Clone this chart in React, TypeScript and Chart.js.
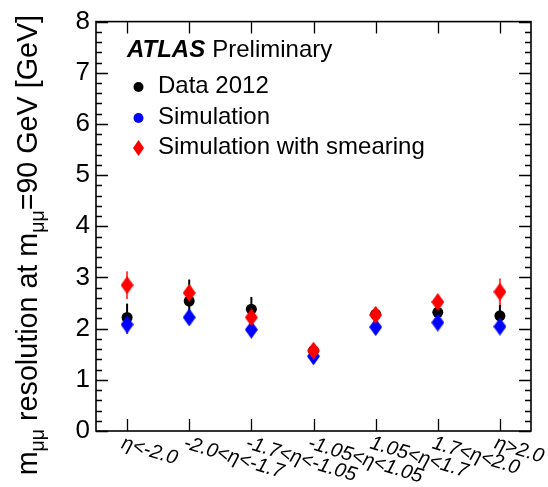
import React, { useEffect, useRef } from 'react';
import { Chart, registerables } from 'chart.js';

Chart.register(...registerables);

const FONT = '"Liberation Sans", Arial, Helvetica, sans-serif';

const categories = ['η<-2.0', '-2.0<η<-1.7', '-1.7<η<-1.05', '-1.05<η<1.05', '1.05<η<1.7', '1.7<η<2.0', 'η>2.0'];

const dataValues = [2.22, 2.54, 2.38, 1.57, 2.28, 2.32, 2.25];
const dataErrors = [0.27, 0.42, 0.24, 0.08, 0.08, 0.09, 0.28];

const simValues = [2.08, 2.22, 1.98, 1.46, 2.03, 2.12, 2.04];
const simErrors = [0.18, 0.1, 0.1, 0.06, 0.1, 0.1, 0.12];

const smearValues = [2.85, 2.7, 2.22, 1.57, 2.27, 2.52, 2.72];
const smearErrors = [0.27, 0.15, 0.1, 0.08, 0.15, 0.12, 0.26];

const seriesLabels = ['Data 2012', 'Simulation', 'Simulation with smearing'];
const seriesColors = ['#000000', '#0000ff', '#ff0000'];

const yMin = 0;
const yMax = 8;
const yMajorStep = 1;
const yMinorPerMajor = 5;

function makeDiamond(color: string, w: number, h: number) {
  const c = document.createElement('canvas');
  c.width = w;
  c.height = h;
  const ctx = c.getContext('2d')!;
  ctx.fillStyle = color;
  ctx.beginPath();
  ctx.moveTo(w / 2, 0);
  ctx.lineTo(w, h / 2);
  ctx.lineTo(w / 2, h);
  ctx.lineTo(0, h / 2);
  ctx.closePath();
  ctx.fill();
  return c;
}

const errorBarPlugin = {
  id: 'errorBars',
  beforeDatasetsDraw(chart: any) {
    const ctx = chart.ctx;
    const xs = chart.scales.x;
    const ys = chart.scales.y;
    chart.data.datasets.forEach((ds: any) => {
      const errs: number[] = ds.errors || [];
      ctx.save();
      ctx.strokeStyle = ds.errorColor;
      ctx.lineWidth = 2;
      ds.data.forEach((v: number, i: number) => {
        const e = errs[i] || 0;
        const x = xs.getPixelForValue(i);
        ctx.beginPath();
        ctx.moveTo(x, ys.getPixelForValue(v - e));
        ctx.lineTo(x, ys.getPixelForValue(v + e));
        ctx.stroke();
      });
      ctx.restore();
    });
  },
};

const decorPlugin = {
  id: 'decor',
  afterDraw(chart: any) {
    const ctx = chart.ctx;
    const a = chart.chartArea;
    const xs = chart.scales.x;
    const ys = chart.scales.y;
    ctx.save();
    // frame
    ctx.strokeStyle = '#000';
    ctx.lineWidth = 1.6;
    ctx.strokeRect(a.left, a.top, a.right - a.left, a.bottom - a.top);
    // y ticks (major + minor), both sides, inward
    ctx.lineWidth = 1.3;
    const minorStep = yMajorStep / yMinorPerMajor;
    const n = Math.round((yMax - yMin) / minorStep);
    for (let k = 0; k <= n; k++) {
      const v = yMin + k * minorStep;
      const y = Math.round(ys.getPixelForValue(v)) + 0.5;
      const len = k % yMinorPerMajor === 0 ? 12 : 6;
      ctx.beginPath();
      ctx.moveTo(a.left, y);
      ctx.lineTo(a.left + len, y);
      ctx.moveTo(a.right, y);
      ctx.lineTo(a.right - len, y);
      ctx.stroke();
    }
    // x ticks at categories, top and bottom, inward
    categories.forEach((_, i) => {
      const x = Math.round(xs.getPixelForValue(i)) + 0.5;
      ctx.beginPath();
      ctx.moveTo(x, a.bottom);
      ctx.lineTo(x, a.bottom - 12);
      ctx.moveTo(x, a.top);
      ctx.lineTo(x, a.top + 12);
      ctx.stroke();
    });
    // x labels, rotated
    ctx.fillStyle = '#000';
    ctx.font = `italic 20px ${FONT}`;
    ctx.textAlign = 'left';
    ctx.textBaseline = 'top';
    categories.forEach((lab, i) => {
      const x = xs.getPixelForValue(i);
      ctx.save();
      ctx.translate(x - 2, a.bottom + 2);
      ctx.rotate((17 * Math.PI) / 180);
      ctx.fillText(lab, 0, 0);
      ctx.restore();
    });
    // y title with subscripts
    const big = 28.7;
    const small = big * 0.68;
    const parts: [string, boolean][] = [
      ['m', false],
      ['μμ', true],
      [' resolution at m', false],
      ['μμ', true],
      ['=90 GeV [GeV]', false],
    ];
    const widths = parts.map(([t, sub]) => {
      ctx.font = `${sub ? small : big}px ${FONT}`;
      return ctx.measureText(t).width;
    });
    const total = widths.reduce((s, w) => s + w, 0);
    ctx.save();
    ctx.translate(37, 15 + total);
    ctx.rotate(-Math.PI / 2);
    ctx.textBaseline = 'alphabetic';
    let cx = 0;
    parts.forEach(([t, sub], i) => {
      ctx.font = `${sub ? small : big}px ${FONT}`;
      ctx.fillText(t, cx, sub ? 7 : 0);
      cx += widths[i];
    });
    ctx.restore();
    // ATLAS Preliminary
    ctx.textBaseline = 'alphabetic';
    ctx.font = `italic bold 24px ${FONT}`;
    ctx.fillText('ATLAS', 127, 57);
    const aw = ctx.measureText('ATLAS').width;
    ctx.font = `24px ${FONT}`;
    ctx.fillText('Preliminary', 127 + aw + 7, 57);
    // legend entries
    const rowY = [93, 124, 154];
    const mx = 138.5;
    rowY.forEach((by, i) => {
      const my = by - 6;
      ctx.fillStyle = seriesColors[i];
      ctx.beginPath();
      if (i < 2) {
        ctx.arc(mx, my, 5, 0, Math.PI * 2);
      } else {
        ctx.moveTo(mx, my - 8);
        ctx.lineTo(mx + 5.5, my);
        ctx.lineTo(mx, my + 8);
        ctx.lineTo(mx - 5.5, my);
        ctx.closePath();
      }
      ctx.fill();
      ctx.fillStyle = '#000';
      ctx.font = `24px ${FONT}`;
      ctx.fillText(seriesLabels[i], 158, by);
    });
    ctx.restore();
  },
};

export default function App() {
  const ref = useRef<HTMLCanvasElement | null>(null);
  useEffect(() => {
    document.body.style.margin = '0';
    const canvas = ref.current!;
    const blueDiamond = makeDiamond('#0000ff', 13, 18);
    const redDiamond = makeDiamond('#ff0000', 13, 18);
    const chart = new Chart(canvas, {
      type: 'line',
      data: {
        labels: categories,
        datasets: [
          {
            label: seriesLabels[0],
            data: dataValues,
            errors: dataErrors,
            errorColor: '#000000',
            showLine: false,
            pointStyle: 'circle',
            pointRadius: 5.5,
            pointBackgroundColor: '#000000',
            pointBorderWidth: 0,
            borderColor: '#000000',
            order: 3,
          } as any,
          {
            label: seriesLabels[1],
            data: simValues,
            errors: simErrors,
            errorColor: '#3333ff',
            showLine: false,
            pointStyle: blueDiamond,
            pointRadius: 6,
            borderColor: '#0000ff',
            order: 2,
          } as any,
          {
            label: seriesLabels[2],
            data: smearValues,
            errors: smearErrors,
            errorColor: '#ff4444',
            showLine: false,
            pointStyle: redDiamond,
            pointRadius: 6,
            borderColor: '#ff0000',
            order: 1,
          } as any,
        ],
      },
      options: {
        responsive: false,
        animation: false,
        layout: { padding: { left: 0, right: 17, top: 16, bottom: 0 } },
        plugins: { legend: { display: false }, tooltip: { enabled: false } },
        scales: {
          x: {
            type: 'category',
            offset: true,
            grid: { display: false, drawTicks: false },
            border: { display: false },
            ticks: { display: false },
            afterFit: (s: any) => {
              s.height = 56;
            },
          },
          y: {
            min: yMin,
            max: yMax,
            grid: { display: false, drawTicks: false },
            border: { display: false },
            ticks: {
              stepSize: yMajorStep,
              color: '#000',
              padding: 6,
              font: { family: FONT, size: 26 },
            },
            afterFit: (s: any) => {
              s.width = 96;
            },
          },
        },
      } as any,
      plugins: [errorBarPlugin, decorPlugin],
    });
    return () => chart.destroy();
  }, []);
  return (
    <div style={{ width: 548, height: 487, background: '#fff' }}>
      <canvas ref={ref} width={548} height={487} style={{ display: 'block', width: 548, height: 487 }} />
    </div>
  );
}
